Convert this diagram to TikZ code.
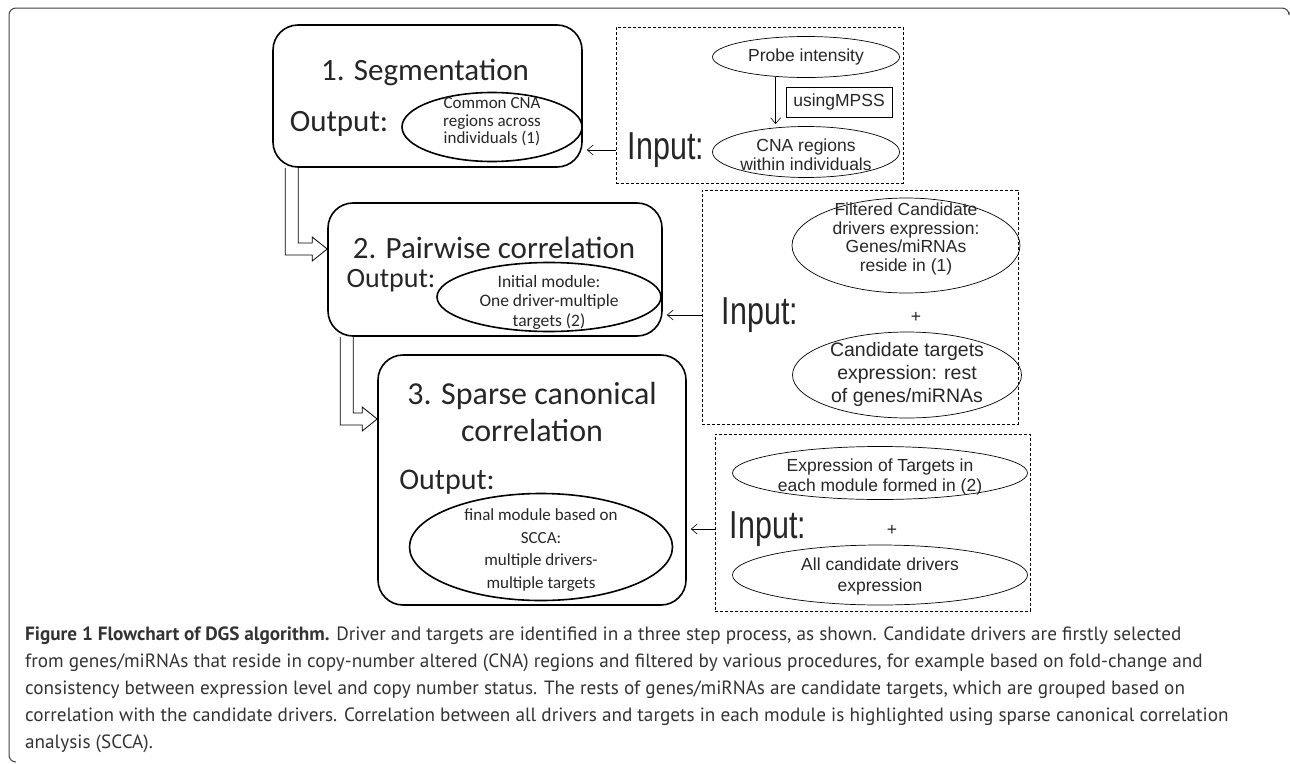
\documentclass[tikz,border=0pt]{standalone}
\usepackage{fontspec}
\setmainfont{Carlito}
\newfontfamily\arialfont{Liberation Sans}
\newfontfamily\narrowfont[FakeStretch=0.78]{Liberation Sans}
\newfontfamily\captionfont{PT Sans}
\usetikzlibrary{arrows.meta,calc,shapes.geometric}

\begin{document}
\begin{tikzpicture}[x=1pt,y=-1pt,
                    stepbox/.style={draw,line width=1.6pt,rounded corners=25pt,inner sep=0pt},
                    steptext/.style={inner sep=0pt,align=center,text=black!85,font=\fontsize{31}{37}\selectfont},
                    outbubble/.style={draw,ellipse,line width=1.6pt,inner sep=0pt},
                    outtext/.style={inner sep=0pt,align=center,text=black!85,font=\fontsize{17}{17.5}\selectfont},
                    inframe/.style={draw,line width=0.7pt,dash pattern=on 3pt off 2pt,inner sep=0pt},
                    inbubble/.style={draw,ellipse,line width=0.7pt,inner sep=0pt},
                    intext/.style={inner sep=0pt,align=center,text=black!85,font=\arialfont\fontsize{17.5}{19}\selectfont},
                    inlabel/.style={inner sep=0pt,text=black!85,font=\narrowfont\fontsize{39}{39}\selectfont},
                    thinarrow/.style={-{Straight Barb[length=6pt,width=10pt]},line width=0.6pt,shorten >=4pt},
                    hollowarrow/.style={line width=0.8pt,line join=miter}]

                    \useasboundingbox (0,0) rectangle (1290,763);

                    \draw[line width=1pt,black!75,rounded corners=7pt] (1289,12) -- (1289,8) -- (9,8) -- (9,762) -- (16,762);

                    \node[stepbox,minimum width=309pt,minimum height=142pt] (seg) at (427.5,96) {};
                    \node[steptext] (segtitle) at (425,72) {1. Segmentation};
                    \node[steptext] (segoutlabel) at (339,124) {Output:};
                    \node[outbubble,minimum width=180pt,minimum height=69pt] (segout) at (492,127) {};
                    \node[outtext] (segouttext) at (492,122) {Common CNA\\regions across\\individuals (1)};

                    \node[inframe,minimum width=287pt,minimum height=156pt] (inone) at (759.5,105) {};
                    \node[inbubble,minimum width=187pt,minimum height=41pt] (probe) at (806,57) {};
                    \node[intext] (probetext) at (probe) {Probe intensity};
                    \node[draw,line width=0.7pt,minimum width=106pt,minimum height=30pt,inner sep=0pt,
                          text=black!85,font=\arialfont\fontsize{17.5}{19}\selectfont] (mpss) at (839,102) {usingMPSS};
                    \node[inbubble,minimum width=187pt,minimum height=51pt] (cna) at (806,152) {};
                    \node[intext] (cnatext) at (806,155) {CNA regions\\within individuals};
                    \node[inlabel] (inputone) at (666,150) {Input:};

                    \draw[thinarrow,shorten >=2pt] (probe.213) -- (probe.213 |- cna.north);
                    \draw[thinarrow] (inone.west |- inputone) -- (seg.east |- inputone);

                    \node[stepbox,minimum width=334pt,minimum height=133pt] (pair) at (495,269.5) {};
                    \node[steptext] (pairtitle) at (494,248) {2. Pairwise correlation};
                    \node[steptext,font=\fontsize{28}{34}\selectfont] (pairoutlabel) at (391,281) {Output:};
                    \node[outbubble,minimum width=224pt,minimum height=69pt] (pairout) at (549,297) {};
                    \node[outtext,font=\fontsize{17.5}{19.5}\selectfont] (pairouttext) at (549,302) {Initial module:\\One driver-multiple\\targets (2)};

                    \node[inframe,minimum width=316pt,minimum height=234pt] (intwo) at (860,307) {};
                    \node[inbubble,minimum width=228pt,minimum height=95pt] (filtered) at (906,245.5) {};
                    \node[intext,font=\arialfont\fontsize{17.5}{18.5}\selectfont] (filteredtext) at (906,239) {Filtered Candidate\\drivers expression:\\Genes/miRNAs\\reside in (1)};
                    \node[inlabel] (inputtwo) at (760,315) {Input:};
                    \node[intext] (plusone) at (916,317) {+};
                    \node[inbubble,minimum width=229pt,minimum height=86pt] (cand) at (907,375) {};
                    \node[intext,font=\arialfont\fontsize{19.5}{23}\selectfont] (candtext) at (907,374) {Candidate targets\\expression: rest\\of genes/miRNAs};

                    \draw[thinarrow] (intwo.west |- inputtwo) -- (pair.east |- inputtwo);

                    \coordinate (tipone) at ($(pair.west)+(0,-20.5)$);
                    \draw[hollowarrow] ($(seg.south west)+(26,0)$) |- ($(tipone)+(-15,-6)$) -- ++(0,-6) -- (tipone)
                          -- ++(-15,12) -- ++(0,-6) -| ($(seg.south west)+(13,0)$);

                    \node[stepbox,minimum width=308pt,minimum height=250pt] (sparse) at (532,480) {};
                    \node[steptext,font=\fontsize{32}{37}\selectfont] (sparsetitle) at (532,412) {3. Sparse canonical\\correlation};
                    \node[steptext,font=\fontsize{30}{36}\selectfont] (sparseoutlabel) at (447,482) {Output:};
                    \node[outbubble,minimum width=263pt,minimum height=107pt] (sparseout) at (541,547) {};
                    \node[outtext,font=\fontsize{17}{22.5}\selectfont] (sparseouttext) at (541,550) {final module based on\\SCCA:\\multiple drivers-\\multiple targets};

                    \node[inframe,minimum width=315pt,minimum height=177pt] (inthree) at (872.5,522.5) {};
                    \node[inbubble,minimum width=295pt,minimum height=53pt] (exprtargets) at (880,473) {};
                    \node[intext,font=\arialfont\fontsize{17.5}{20}\selectfont] (exprtext) at (880,477) {Expression of Targets in\\each module formed in (2)};
                    \node[inlabel] (inputthree) at (768,529) {Input:};
                    \node[intext] (plustwo) at (892,530) {+};
                    \node[inbubble,minimum width=295pt,minimum height=60pt] (alldrivers) at (880,575) {};
                    \node[intext,font=\arialfont\fontsize{17.5}{21}\selectfont] (alldrivtext) at (880,576) {All candidate drivers\\expression};

                    \draw[thinarrow] (inthree.west |- inputthree) -- (sparse.east |- inputthree);

                    \coordinate (tiptwo) at ($(sparse.west)+(0,-61)$);
                    \draw[hollowarrow] ($(pair.south west)+(26,0)$) |- ($(tiptwo)+(-15,-6)$) -- ++(0,-6) -- (tiptwo)
                          -- ++(-15,12) -- ++(0,-6) -| ($(pair.south west)+(13,0)$);

                    \node[anchor=north west,align=left,inner sep=0pt,text=black!80,
                          font=\captionfont\fontsize{19.2}{27}\selectfont] (caption) at (25,627)
                          {\textbf{Figure 1 Flowchart of DGS algorithm.} Driver and targets are identified in a three step process, as shown. Candidate drivers are firstly selected\\
                           from genes/miRNAs that reside in copy-number altered (CNA) regions and filtered by various procedures, for example based on fold-change and\\
                           consistency between expression level and copy number status. The rests of genes/miRNAs are candidate targets, which are grouped based on\\
                           correlation with the candidate drivers. Correlation between all drivers and targets in each module is highlighted using sparse canonical correlation\\
                           analysis (SCCA).};
                \end{tikzpicture}
\end{document}
